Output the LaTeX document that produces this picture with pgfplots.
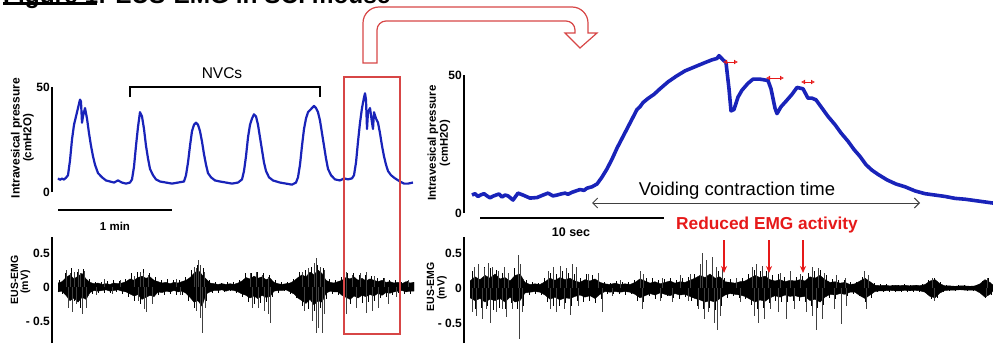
\documentclass[border=0pt]{standalone}
\usepackage{pgfplots}
\pgfplotsset{compat=1.18}
\usetikzlibrary{arrows.meta}
\usepackage{fontspec}
\setmainfont{Liberation Sans}
\newcommand{\fsz}[1]{\fontsize{#1}{#1}\selectfont}
\definecolor{trace}{RGB}{25,35,185}
\definecolor{boxred}{RGB}{215,70,70}
\definecolor{txtred}{RGB}{230,25,25}
\pgfplotsset{
  trc/.style={
    scale only axis, clip=false,
    axis x line=none, axis y line=left,
    axis line style={-, line width=2.4pt},
    xtick=\empty, major tick length=0pt,
    tick style={draw=none},
    /pgf/number format/assume math mode=true,
    yticklabel style={font=\bfseries\fsz{12}, inner sep=2pt},
  },
}
\begin{document}
\begin{tikzpicture}
\useasboundingbox (0pt,0pt) rectangle (993pt,-356pt);

% ---------- left pressure ----------
\begin{axis}[trc, at={(52pt,-192pt)}, anchor=south west,
  width=362pt, height=105pt, xmin=52, xmax=414, ymin=0, ymax=50,
  ytick={0,50}, yticklabels={0,50}]
\addplot[trace, line width=2.2pt, line join=round] coordinates {
(58,6.5)(60,5.8)(62,6.4)(64,5.9)(66,6.8)(68,8)(70,15)(72,25)(74,32)(76,36)(78,40)(80,44)(81,43)(82,33)(83,36)(85,40)(87,35)(89,28)(91,22)(93,17)(95,13)(98,9)(102,7)(106,5.5)(110,5)(114,4.5)(118,5.5)(122,4.5)(126,4)(130,4.5)
(132,6)(134,12)(136,22)(138,31)(140,38)(142,36)(144,30)(146,22)(148,16)(150,11)(153,8)(156,6)(160,5)(166,4.5)(172,4)(178,4.5)(184,5)
(186,8)(188,14)(190,22)(192,29)(194,32)(196,33)(198,32)(200,29)(202,24)(204,18)(206,13)(208,9)(211,7)(215,5.5)(220,5)(226,4.5)(232,4)(238,4.5)
(242,6)(244,10)(246,17)(248,26)(250,32)(252,35)(254,37)(256,36)(258,32)(260,26)(262,20)(264,14)(266,10)(269,7)(273,5.5)(280,4.5)(286,4)(292,3.5)(296,4.5)
(298,7)(300,13)(302,22)(304,30)(306,35)(308,38)(310,39)(312,40)(314,41)(316,40)(318,38)(320,34)(322,28)(324,22)(326,16)(328,11)(331,8)(335,6)(340,5.5)(344,6.5)(348,6)(352,6.5)
(354,8)(356,14)(358,24)(360,33)(362,40)(364,45)(365,47)(366,44)(367,30)(368,38)(370,40)(372,33)(373,30)(374,38)(376,35)(378,33)(380,28)(382,22)(384,17)(386,13)(388,10)(391,8)(395,6.5)(400,5)(404,4)(408,4)(413,4.5)};
\end{axis}

% ---------- left EMG ----------
\begin{axis}[trc, at={(52pt,-343pt)}, anchor=south west,
  width=362pt, height=106pt, xmin=52, xmax=414, ymin=-0.82, ymax=0.735,
  ytick={-0.5,0,0.5}, yticklabels={- 0.5,0,0.5}]
\addplot[fill=black, draw=black, line width=0.4pt] coordinates {
(58,.06)(62,.08)(66,.14)(70,.18)(74,.12)(78,.16)(82,.2)(86,.12)(90,.07)(94,.05)(98,.06)(102,.04)(106,.05)(110,.04)(114,.06)(118,.05)(122,.06)(126,.08)(130,.12)(134,.1)(138,.14)(142,.16)(146,.13)(150,.15)(154,.1)(158,.08)(162,.06)(166,.07)(170,.05)(174,.07)(178,.06)(182,.08)(186,.1)(190,.14)(194,.2)(198,.25)(202,.18)(206,.12)(210,.06)(214,.05)(218,.04)(222,.05)(226,.04)(230,.05)(234,.04)(238,.06)(242,.09)(246,.14)(250,.12)(254,.16)(258,.13)(262,.15)(266,.11)(270,.13)(274,.07)(278,.05)(282,.04)(286,.05)(290,.06)(294,.09)(298,.14)(302,.18)(306,.15)(310,.22)(314,.18)(318,.25)(322,.2)(326,.1)(330,.07)(334,.06)(338,.08)(342,.1)(346,.14)(350,.12)(354,.15)(358,.1)(362,.13)(366,.09)(370,.12)(374,.1)(378,.08)(382,.1)(386,.07)(390,.08)(394,.06)(398,.07)(402,.05)(406,.08)(410,.06)(414,.07)
(414,-.06)(410,-.06)(406,-.07)(402,-.05)(398,-.06)(394,-.07)(390,-.09)(386,-.08)(382,-.12)(378,-.09)(374,-.13)(370,-.11)(366,-.14)(362,-.12)(358,-.16)(354,-.13)(350,-.18)(346,-.15)(342,-.12)(338,-.07)(334,-.07)(330,-.06)(326,-.09)(322,-.22)(318,-.2)(314,-.26)(310,-.18)(306,-.24)(302,-.2)(298,-.16)(294,-.1)(290,-.07)(286,-.04)(282,-.05)(278,-.05)(274,-.06)(270,-.14)(266,-.15)(262,-.12)(258,-.17)(254,-.13)(250,-.16)(246,-.12)(242,-.1)(238,-.07)(234,-.05)(230,-.04)(226,-.06)(222,-.04)(218,-.05)(214,-.05)(210,-.07)(206,-.1)(202,-.28)(198,-.2)(194,-.22)(190,-.15)(186,-.09)(182,-.06)(178,-.07)(174,-.05)(170,-.07)(166,-.06)(162,-.08)(158,-.07)(154,-.14)(150,-.12)(146,-.15)(142,-.18)(138,-.11)(134,-.13)(130,-.1)(126,-.07)(122,-.06)(118,-.04)(114,-.05)(110,-.06)(106,-.04)(102,-.05)(98,-.06)(94,-.05)(90,-.08)(86,-.18)(82,-.15)(78,-.22)(74,-.16)(70,-.2)(66,-.12)(62,-.06)(58,-.07)};
\addplot[ycomb, draw=black, line width=0.7pt, mark=none] coordinates {
(59,.1)(62,-.1)(65,.2)(68,-.25)(71,.28)(74,-.2)(77,.22)(80,-.3)(83,.26)(86,-.22)(89,.12)(92,-.1)(95,.08)(98,-.09)(101,.07)(104,-.08)(107,.09)(110,-.08)(113,.1)(116,-.07)(119,.09)(122,-.1)(125,.12)(128,-.15)(131,.2)(134,-.2)(137,.22)(140,-.25)(143,.26)(146,-.22)(149,.2)(152,-.2)(155,.15)(158,-.12)(161,.1)(164,-.11)(167,.12)(170,-.1)(173,.11)(176,-.12)(179,.1)(182,-.12)(185,.15)(188,-.2)(191,.25)(194,-.3)(197,.32)(200,-.35)(203,.28)(206,-.2)(209,.1)(212,-.08)(215,.07)(218,-.08)(221,.06)(224,-.07)(227,.08)(230,-.06)(233,.07)(236,-.08)(239,.1)(242,-.14)(245,.2)(248,-.22)(251,.2)(254,-.25)(257,.22)(260,-.24)(263,.2)(266,-.22)(269,.18)(272,-.15)(275,.1)(278,-.08)(281,.07)(284,-.06)(287,.08)(290,-.1)(293,.12)(296,-.16)(299,.22)(302,-.28)(305,.25)(308,-.32)(311,.3)(314,-.35)(317,.33)(320,-.3)(323,.28)(326,-.18)(329,.12)(332,-.1)(335,.1)(338,-.12)(341,.15)(344,-.22)(347,.2)(350,-.25)(353,.2)(356,-.22)(359,.18)(362,-.24)(365,.18)(368,-.22)(371,.17)(374,-.2)(377,.14)(380,-.16)(383,.13)(386,-.14)(389,.11)(392,-.12)(395,.1)(398,-.09)(401,.08)(404,-.1)(407,.09)(410,-.1)(413,.08)};
\addplot[ycomb, draw=black!75, line width=0.55pt, mark=none] coordinates {
(66,.25)(70,.2)(74,.22)(78,.26)(80,.2)(84,.24)(104,.12)(120,.1)(134,.16)(140,.22)(143,.2)(148,.18)(176,.12)(194,.3)(196,.28)(198,.4)(200,.33)(204,.22)(250,.2)(256,.22)(262,.18)(268,.15)(302,.22)(308,.28)(314,.35)(316,.42)(320,.3)(324,.25)(346,.22)(352,.18)(360,.2)(366,.22)(374,.16)(384,.14)(408,.1)
(68,-.3)(72,-.36)(76,-.25)(82,-.4)(86,-.3)(96,-.12)(112,-.1)(138,-.2)(144,-.32)(146,-.36)(152,-.25)(180,-.12)(196,-.35)(200,-.45)(202,-.68)(205,-.3)(252,-.3)(258,-.3)(264,-.35)(268,-.4)(270,-.52)(304,-.35)(312,-.5)(316,-.68)(318,-.6)(322,-.68)(324,-.4)(346,-.4)(356,-.3)(366,-.38)(372,-.35)(378,-.3)(388,-.25)(396,-.15)};
\end{axis}

% ---------- right pressure ----------
\begin{axis}[trc, at={(464pt,-213pt)}, anchor=south west,
  width=529pt, height=138pt, xmin=464, xmax=993, ymin=0, ymax=50,
  ytick={0,50}, yticklabels={0,50}]
\addplot[trace, line width=3.6pt, line join=round] coordinates {
(472,6.5)(475,7)(478,6)(481,6.6)(484,7)(487,6.2)(490,5.5)(493,6.1)(496,6.5)(499,6.9)(502,5.8)(505,6.5)(508,6.2)(513,4.7)(518,7.2)(523,6.5)(530,5.4)(537,5.6)(543,6.5)(548,7.2)(553,6.2)(557,6.5)(561,6.9)(565,7.2)(568,6.8)(572,7.5)(576,8)(580,8.5)(584,8.2)(587,9)(592,9.5)(597,10.5)
(602,13)(607,16)(612,19.5)(617,23.5)(622,27)(627,30.5)(632,34)(637,37.5)(640,38.5)(643,40)(648,41.5)(654,43)(660,45)(668,47.5)(676,49.5)(685,51.5)(695,53)(705,54.5)(712,55.5)(717,56)(719,57)(723,55.5)(726,54.5)
(729,45)(731,37)(734,37.5)(738,42)(742,44.5)(748,47)(753,48.5)(760,48.5)(768,48)(771,45)(775,38)(777,36)(781,38.5)(786,40.5)(792,43)(797,45.5)(803,45)(808,41.6)(812,41.6)(816,41)
(822,38)(828,35)(835,32)(841,29)(848,26)(854,23)(860,20.5)(866,17.5)(872,15.5)(878,14)(887,12)(896,10.5)(905,9.5)(915,8)(925,7)(935,6.5)(945,6)(955,5.3)(965,5)(975,4.5)(985,4)(993,3.6)};
\end{axis}

% ---------- right EMG ----------
\begin{axis}[trc, at={(464pt,-343pt)}, anchor=south west,
  width=529pt, height=106pt, xmin=464, xmax=993, ymin=-0.786, ymax=0.729,
  ytick={-0.5,0,0.5}, yticklabels={- 0.5,0,0.5}]
\addplot[fill=black, draw=black, line width=0.4pt] coordinates {
(470,.1)(475,.16)(480,.12)(485,.18)(490,.14)(495,.2)(500,.13)(505,.15)(510,.1)(515,.18)(520,.2)(525,.08)(530,.05)(535,.06)(540,.05)(545,.09)(550,.14)(555,.11)(560,.15)(565,.12)(570,.14)(575,.1)(580,.08)(585,.12)(590,.1)(595,.13)(600,.08)(605,.06)(610,.05)(615,.07)(620,.05)(625,.06)(630,.05)(635,.08)(640,.13)(645,.1)(650,.07)(655,.09)(660,.06)(665,.08)(670,.1)(675,.07)(680,.09)(685,.08)(690,.11)(695,.14)(700,.18)(705,.15)(710,.2)(715,.14)(720,.16)(725,.09)(730,.08)(735,.07)(740,.09)(745,.1)(750,.14)(755,.18)(760,.15)(765,.17)(770,.12)(775,.1)(780,.12)(785,.09)(790,.11)(795,.1)(800,.12)(805,.1)(810,.16)(815,.14)(820,.18)(825,.12)(830,.08)(835,.09)(840,.07)(845,.08)(850,.05)(855,.06)(860,.1)(865,.14)(870,.09)(875,.04)(880,.035)(885,.04)(890,.03)(895,.04)(900,.035)(905,.04)(910,.03)(915,.04)(920,.035)(925,.05)(930,.1)(935,.12)(940,.06)(945,.03)(950,.03)(955,.025)(960,.03)(965,.03)(970,.025)(975,.03)(980,.06)(985,.12)(990,.08)(993,.04)
(993,-.04)(990,-.09)(985,-.13)(980,-.07)(975,-.03)(970,-.03)(965,-.03)(960,-.025)(955,-.03)(950,-.03)(945,-.035)(940,-.07)(935,-.14)(930,-.12)(925,-.06)(920,-.04)(915,-.035)(910,-.04)(905,-.035)(900,-.04)(895,-.04)(890,-.035)(885,-.04)(880,-.04)(875,-.05)(870,-.1)(865,-.15)(860,-.11)(855,-.06)(850,-.06)(845,-.09)(840,-.08)(835,-.1)(830,-.09)(825,-.13)(820,-.2)(815,-.16)(810,-.18)(805,-.12)(800,-.13)(795,-.11)(790,-.12)(785,-.1)(780,-.13)(775,-.11)(770,-.14)(765,-.19)(760,-.17)(755,-.2)(750,-.16)(745,-.12)(740,-.1)(735,-.09)(730,-.08)(725,-.1)(720,-.15)(715,-.2)(710,-.18)(705,-.2)(700,-.17)(695,-.15)(690,-.12)(685,-.09)(680,-.1)(675,-.08)(670,-.11)(665,-.09)(660,-.07)(655,-.1)(650,-.08)(645,-.11)(640,-.14)(635,-.09)(630,-.06)(625,-.05)(620,-.06)(615,-.05)(610,-.06)(605,-.05)(600,-.09)(595,-.15)(590,-.11)(585,-.13)(580,-.1)(575,-.12)(570,-.15)(565,-.14)(560,-.17)(555,-.13)(550,-.16)(545,-.1)(540,-.06)(535,-.05)(530,-.06)(525,-.07)(520,-.18)(515,-.2)(510,-.13)(505,-.2)(500,-.15)(495,-.18)(490,-.16)(485,-.2)(480,-.15)(475,-.18)(470,-.14)};
\addplot[ycomb, draw=black, line width=0.7pt, mark=none] coordinates {
(472,.25)(475,-.3)(478,.22)(481,-.28)(484,.3)(487,-.25)(490,.28)(493,-.32)(496,.26)(499,-.28)(502,.22)(505,-.3)(508,.2)(511,-.22)(514,.28)(517,-.3)(520,.3)(523,-.25)(526,.12)(529,-.1)(532,.08)(535,-.09)(538,.07)(541,-.1)(544,.14)(547,-.2)(550,.22)(553,-.25)(556,.2)(559,-.26)(562,.24)(565,-.22)(568,.22)(571,-.25)(574,.2)(577,-.18)(580,.15)(583,-.2)(586,.2)(589,-.18)(592,.18)(595,-.22)(598,.16)(601,-.15)(604,.09)(607,-.08)(610,.07)(613,-.09)(616,.1)(619,-.08)(622,.09)(625,-.1)(628,.08)(631,-.09)(634,.12)(637,-.18)(640,.2)(643,-.2)(646,.15)(649,-.12)(652,.14)(655,-.15)(658,.12)(661,-.14)(664,.13)(667,-.12)(670,.15)(673,-.14)(676,.12)(679,-.15)(682,.14)(685,-.13)(688,.16)(691,-.18)(694,.2)(697,-.25)(700,.28)(703,-.3)(706,.25)(709,-.28)(712,.3)(715,-.32)(718,.25)(721,-.26)(724,.15)(727,-.14)(730,.13)(733,-.12)(736,.12)(739,-.14)(742,.14)(745,-.16)(748,.2)(751,-.24)(754,.26)(757,-.3)(760,.24)(763,-.28)(766,.25)(769,-.22)(772,.18)(775,-.18)(778,.2)(781,-.2)(784,.16)(787,-.2)(790,.17)(793,-.18)(796,.16)(799,-.18)(802,.17)(805,-.2)(808,.22)(811,-.26)(814,.24)(817,-.28)(820,.26)(823,-.24)(826,.18)(829,-.14)(832,.13)(835,-.15)(838,.12)(841,-.14)(844,.12)(847,-.12)(850,.08)(853,-.09)(856,.09)(859,-.12)(862,.16)(865,-.2)(868,.18)(871,-.14)(874,.07)(877,-.06)(880,.06)(883,-.05)(886,.06)(889,-.05)(892,.05)(895,-.06)(898,.05)(901,-.06)(904,.06)(907,-.05)(910,.05)(913,-.06)(916,.05)(919,-.05)(922,.06)(925,-.07)(928,.12)(931,-.16)(934,.15)(937,-.14)(940,.08)(943,-.05)(946,.04)(949,-.04)(952,.035)(955,-.04)(958,.04)(961,-.035)(964,.04)(967,-.04)(970,.035)(973,-.04)(976,.04)(979,-.06)(982,.1)(985,-.14)(988,.15)(991,-.1)};
\addplot[ycomb, draw=black!75, line width=0.55pt, mark=none] coordinates {
(474,.3)(478,.35)(484,.28)(488,.36)(492,.3)(498,.25)(504,.3)(508,.22)(518,.47)(520,.35)(548,.25)(553,.3)(560,.32)(566,.28)(572,.35)(576,.3)(588,.2)(598,.22)(620,.12)(640,.25)(643,.2)(662,.15)(680,.18)(690,.2)(700,.35)(702,.5)(706,.4)(712,.45)(716,.3)(722,.28)(736,.15)(752,.3)(756,.35)(762,.32)(768,.28)(780,.22)(790,.25)(800,.2)(812,.3)(818,.28)(824,.22)(836,.18)(845,.15)(864,.25)(868,.18)(932,.15)(987,.15)
(472,-.35)(476,-.4)(482,-.45)(486,-.3)(490,-.5)(496,-.35)(502,-.3)(506,-.42)(512,-.3)(519,-.73)(522,-.35)(550,-.3)(556,-.35)(564,-.3)(570,-.38)(578,-.25)(602,-.35)(612,-.12)(642,-.3)(660,-.18)(672,-.2)(688,-.18)(698,-.3)(704,-.45)(708,-.35)(714,-.5)(717,-.6)(720,-.4)(740,-.2)(754,-.4)(758,-.5)(764,-.45)(770,-.3)(778,-.35)(786,-.45)(794,-.3)(806,-.35)(812,-.4)(816,-.6)(822,-.45)(834,-.3)(841,-.52)(846,-.25)(866,-.3)(934,-.18)(986,-.12)};
\end{axis}

% ---------- annotations (pixel coordinates, y down) ----------
\begin{scope}[x=1pt,y=-1pt]
\node[anchor=base west, inner sep=0pt, font=\bfseries\fsz{24.4}] at (3,4) {Figure 1: EUS-EMG in SCI mouse};
\draw[line width=3pt] (3,3) -- (97,3);
\node[rotate=90, font=\bfseries\fsz{12}] at (16.5,138) {Intravesical pressure};
\node[rotate=90, font=\bfseries\fsz{11.5}] at (28.5,138) {(cmH2O)};
\node[rotate=90, font=\bfseries\fsz{10.5}] at (14.5,280) {EUS-EMG};
\node[rotate=90, font=\bfseries\fsz{10.5}] at (25.5,282) {(mV)};
\node[rotate=90, font=\bfseries\fsz{11.5}] at (433,143) {Intravesical pressure};
\node[rotate=90, font=\bfseries\fsz{11.2}] at (445,143) {(cmH2O)};
\node[rotate=90, font=\bfseries\fsz{10.5}] at (430.5,287) {EUS-EMG};
\node[rotate=90, font=\bfseries\fsz{10.5}] at (442,288) {(mV)};
\draw[line width=1.2pt] (130,97) -- (130,87) -- (320,87) -- (320,97);
\node[font=\fsz{15.5}] at (222,73) {NVCs};
\draw[line width=2.4pt] (58,210) -- (172,210);
\node[font=\bfseries\fsz{11.5}] at (115,226) {1 min};
\draw[line width=2.4pt] (480,218) -- (664,218);
\node[font=\bfseries\fsz{12.5}] at (571,232) {10 sec};
\draw[boxred, line width=1.3pt] (344,77) rectangle (400,334);
\draw[boxred, line width=1.2pt, line join=miter]
  (363,63) [rounded corners=16pt]-- (363,7) -- (588,7) [sharp corners]-- (588,33) -- (597,33) -- (580,48) -- (565,33) -- (575,33)
  [rounded corners=9pt]-- (575,21) -- (377,21) [sharp corners]-- (377,63) -- cycle;
\draw[black!75, line width=1pt, {Straight Barb[length=5pt,width=10pt]}-{Straight Barb[length=5pt,width=10pt]}] (592,203) -- (920,203);
\node[font=\fsz{18.5}, anchor=base] at (737,195) {Voiding contraction time};
\node[font=\bfseries\fsz{17.3}, text=txtred] at (767,225) {Reduced EMG activity};
\foreach \xx in {724,769,803}
  \draw[txtred, line width=1.6pt, -{Stealth[length=7pt,width=6pt]}] (\xx,240) -- (\xx,273);
\draw[txtred, line width=0.9pt, {Latex[open,length=4pt,width=5pt]}-{Latex[open,length=4pt,width=5pt]}] (723,62) -- (738,62);
\draw[txtred, line width=0.9pt, {Latex[open,length=4pt,width=5pt]}-{Latex[open,length=4pt,width=5pt]}] (766,78) -- (784,78);
\draw[txtred, line width=0.9pt, {Latex[open,length=4pt,width=5pt]}-{Latex[open,length=4pt,width=5pt]}] (801,82) -- (815,82);
\end{scope}
\end{tikzpicture}
\end{document}
